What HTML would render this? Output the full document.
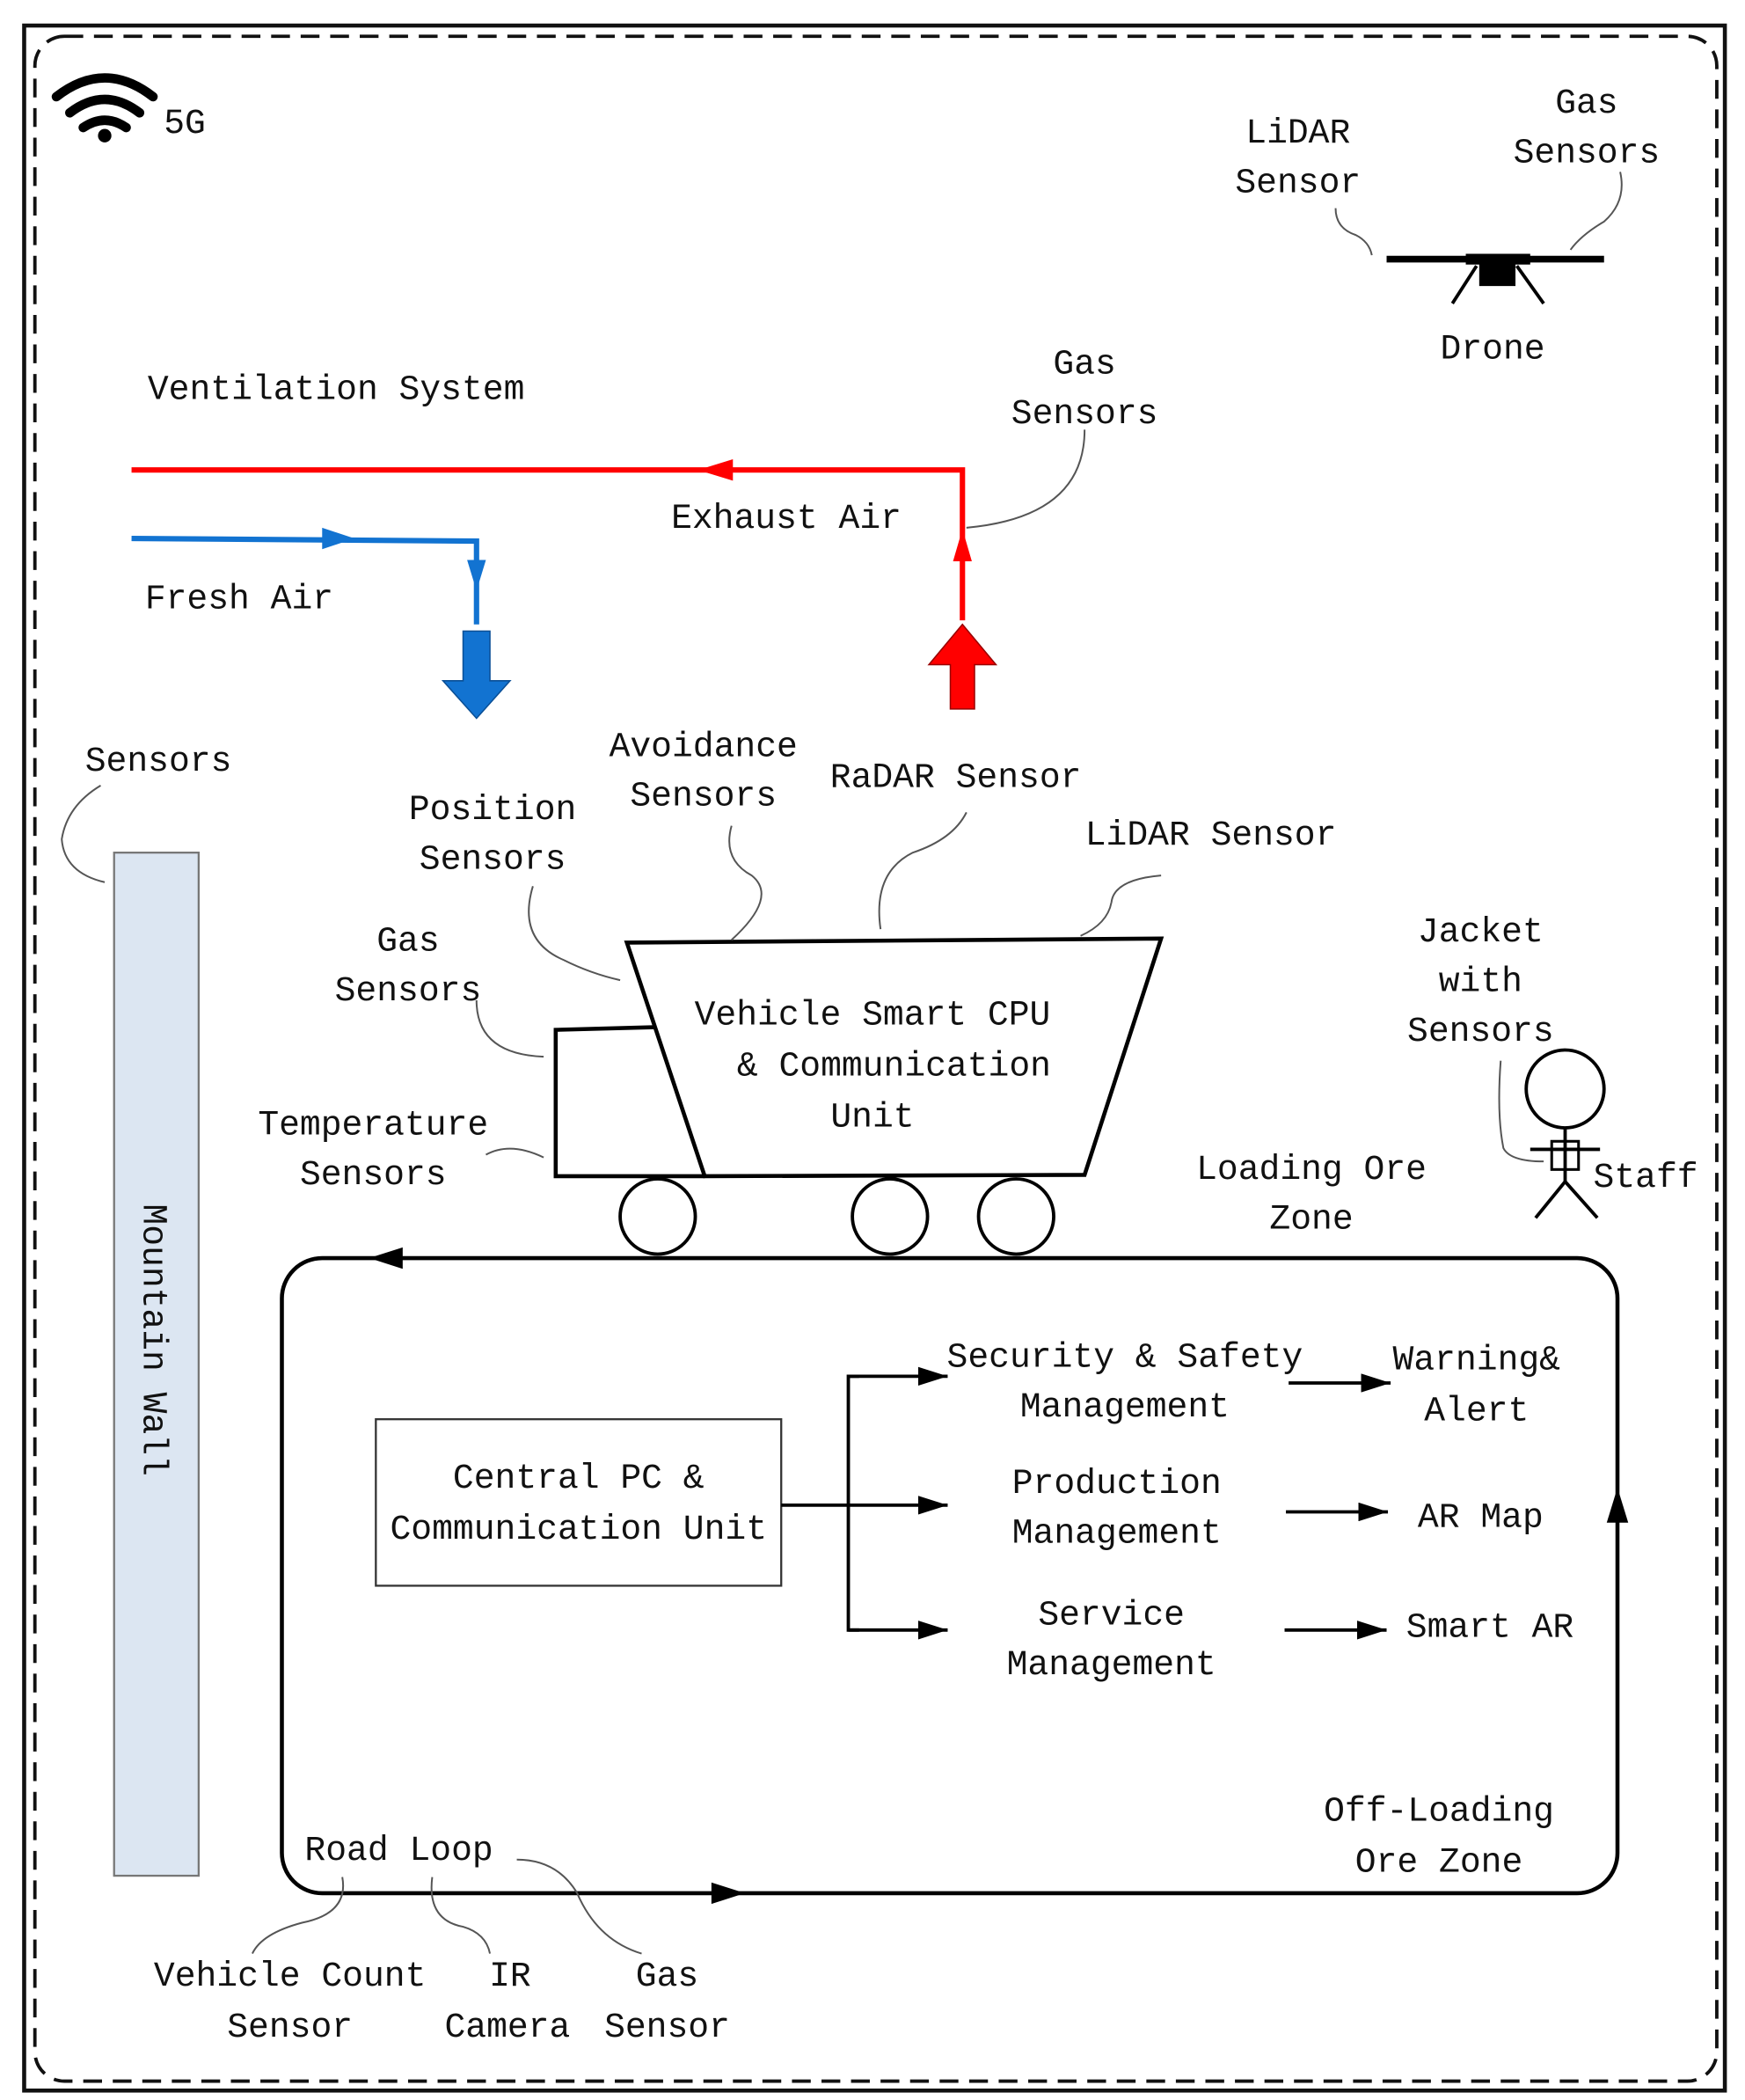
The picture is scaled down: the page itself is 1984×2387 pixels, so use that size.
<!DOCTYPE html>
<html><head><meta charset="utf-8"><style>
html,body{margin:0;padding:0;background:#fff}
svg{display:block}
text{font-family:"Liberation Mono",monospace;font-size:26px;fill:#111}
</style></head><body>
<svg width="1984" height="2387" viewBox="0 0 1300 1564" xmlns="http://www.w3.org/2000/svg">
<defs>
<marker id="ah" viewBox="0 0 22 14" refX="22" refY="7" markerWidth="22" markerHeight="14" markerUnits="userSpaceOnUse" orient="auto"><path d="M0,0 L22,7 L0,14z" fill="#000"/></marker>
</defs>
<rect width="1300" height="1564" fill="#fff"/>
<rect x="18" y="19" width="1267" height="1538" fill="none" stroke="#111" stroke-width="3"/>
<rect x="26" y="27" width="1253" height="1523" rx="22" fill="none" stroke="#111" stroke-width="2.5" stroke-dasharray="14,8"/>
<g fill="none" stroke="#000" stroke-width="7" stroke-linecap="round">
<path d="M42,72 Q78,44 114,72"/><path d="M52,84 Q78,64 104,84"/><path d="M62,95 Q78,84 94,95"/>
</g>
<circle cx="78" cy="101" r="5" fill="#000"/>
<text x="122" y="99">5G</text>
<line x1="1033" y1="193" x2="1195" y2="193" stroke="#000" stroke-width="5"/>
<rect x="1092" y="189" width="48" height="8" fill="#000"/>
<rect x="1102" y="195" width="27" height="18" fill="#000"/>
<line x1="1100" y1="198" x2="1082" y2="226" stroke="#000" stroke-width="2.5"/>
<line x1="1130" y1="198" x2="1150" y2="226" stroke="#000" stroke-width="2.5"/>
<g text-anchor="middle">
<text x="967" y="106">LiDAR</text><text x="967" y="143">Sensor</text>
<text x="1182" y="84">Gas</text><text x="1182" y="121">Sensors</text>
<text x="1112" y="267">Drone</text>
</g>
<g fill="none" stroke="#555" stroke-width="1.3">
<path d="M995,155 Q995,170 1010,175 Q1020,180 1022,190"/>
<path d="M1207,128 Q1212,150 1195,165 Q1178,175 1170,186"/>
</g>
<text x="110" y="297">Ventilation System</text>
<polyline points="98,350 717,350 717,462" fill="none" stroke="#f00" stroke-width="4"/>
<path d="M520,350 L546,342 L546,358z" fill="#f00"/>
<path d="M717,394 L710,418 L724,418z" fill="#f00"/>
<path d="M717,465 L742,495 L726,495 L726,528 L708,528 L708,495 L692,495z" fill="#f00" stroke="#900" stroke-width="1"/>
<polyline points="98,401 355,403 355,465" fill="none" stroke="#1273d1" stroke-width="4"/>
<path d="M264,401 L240,393 L240,409z" fill="#1273d1"/>
<path d="M355,440 L348,417 L362,417z" fill="#1273d1"/>
<path d="M345,470 L365,470 L365,507 L380,507 L355,535 L330,507 L345,507z" fill="#1273d1" stroke="#0a4f96" stroke-width="1"/>
<text x="500" y="393">Exhaust Air</text>
<text x="108" y="453">Fresh Air</text>
<g text-anchor="middle"><text x="808" y="278">Gas</text><text x="808" y="315">Sensors</text></g>
<path d="M808,320 Q808,385 720,393" fill="none" stroke="#555" stroke-width="1.3"/>
<rect x="85" y="635" width="63" height="762" fill="#dce6f2" stroke="#777" stroke-width="1.5"/>
<text transform="translate(107,998) rotate(90)" text-anchor="middle">Mountain Wall</text>
<text x="118" y="574" text-anchor="middle">Sensors</text>
<path d="M78,657 Q48,650 46,625 Q50,600 75,585" fill="none" stroke="#555" stroke-width="1.3"/>
<polyline points="488,765 414,767 414,876 525,876" fill="none" stroke="#000" stroke-width="3"/>
<polygon points="467,702 865,699 808,875 525,876" fill="none" stroke="#000" stroke-width="3"/>
<g fill="none" stroke="#000" stroke-width="2.5">
<circle cx="490" cy="906" r="28"/><circle cx="663" cy="906" r="28"/><circle cx="757" cy="906" r="28"/>
</g>
<g text-anchor="middle">
<text x="650" y="763">Vehicle Smart CPU</text>
<text x="666" y="801">&amp; Communication</text>
<text x="650" y="839">Unit</text>
<text x="367" y="610">Position</text><text x="367" y="647">Sensors</text>
<text x="524" y="563">Avoidance</text><text x="524" y="600">Sensors</text>
<text x="712" y="586">RaDAR Sensor</text>
<text x="902" y="629">LiDAR Sensor</text>
<text x="304" y="708">Gas</text><text x="304" y="745">Sensors</text>
<text x="278" y="845">Temperature</text><text x="278" y="882">Sensors</text>
<text x="1103" y="701">Jacket</text><text x="1103" y="738">with</text><text x="1103" y="775">Sensors</text>
<text x="977" y="878">Loading Ore</text><text x="977" y="915">Zone</text>
</g>
<g fill="none" stroke="#555" stroke-width="1.3">
<path d="M397,660 Q385,700 420,715 Q440,725 462,730"/>
<path d="M545,615 Q538,640 560,652 Q580,668 545,700"/>
<path d="M720,605 Q710,625 680,635 Q650,650 656,692"/>
<path d="M865,652 Q830,655 828,672 Q825,688 805,697"/>
<path d="M355,745 Q355,785 405,787"/>
<path d="M362,860 Q380,850 405,862"/>
<path d="M1118,790 Q1115,830 1120,855 Q1125,865 1150,865"/>
</g>
<g fill="none" stroke="#000" stroke-width="2.5">
<circle cx="1166" cy="811" r="29"/>
<line x1="1166" y1="840" x2="1166" y2="880"/>
<line x1="1140" y1="856" x2="1192" y2="856"/>
<rect x="1156" y="850" width="20" height="21" stroke-width="2"/>
<line x1="1166" y1="880" x2="1144" y2="907"/>
<line x1="1166" y1="880" x2="1190" y2="907"/>
</g>
<text x="1187" y="884">Staff</text>
<rect x="210" y="937" width="995" height="473" rx="30" fill="none" stroke="#000" stroke-width="3"/>
<path d="M275,937 L300,929 L300,945z" fill="#000"/>
<path d="M1205,1108 L1197,1134 L1213,1134z" fill="#000"/>
<path d="M555,1410 L530,1402 L530,1418z" fill="#000"/>
<rect x="280" y="1057" width="302" height="124" fill="#fff" stroke="#333" stroke-width="1.5"/>
<g text-anchor="middle">
<text x="431" y="1108">Central PC &amp;</text>
<text x="431" y="1146">Communication Unit</text>
</g>
<g stroke="#000" stroke-width="2.5" fill="none">
<line x1="582" y1="1121" x2="706" y2="1121" marker-end="url(#ah)"/>
<polyline points="640,1025 632,1025 632,1214 640,1214"/>
<line x1="632" y1="1025" x2="706" y2="1025" marker-end="url(#ah)"/>
<line x1="632" y1="1214" x2="706" y2="1214" marker-end="url(#ah)"/>
<line x1="960" y1="1030" x2="1036" y2="1030" marker-end="url(#ah)"/>
<line x1="958" y1="1126" x2="1034" y2="1126" marker-end="url(#ah)"/>
<line x1="957" y1="1214" x2="1033" y2="1214" marker-end="url(#ah)"/>
</g>
<g text-anchor="middle">
<text x="838" y="1018">Security &amp; Safety</text><text x="838" y="1055">Management</text>
<text x="832" y="1112">Production</text><text x="832" y="1149">Management</text>
<text x="828" y="1210">Service</text><text x="828" y="1247">Management</text>
<text x="1100" y="1020">Warning&amp;</text><text x="1100" y="1058">Alert</text>
<text x="1103" y="1137">AR Map</text>
<text x="1110" y="1219">Smart AR</text>
<text x="1072" y="1356">Off-Loading</text><text x="1072" y="1394">Ore Zone</text>
<text x="216" y="1479">Vehicle Count</text><text x="216" y="1517">Sensor</text>
<text x="380" y="1479">IR</text><text x="378" y="1517">Camera</text>
<text x="497" y="1479">Gas</text><text x="497" y="1517">Sensor</text>
</g>
<text x="227" y="1385">Road Loop</text>
<g fill="none" stroke="#555" stroke-width="1.3">
<path d="M255,1398 Q260,1425 225,1432 Q195,1440 188,1455"/>
<path d="M322,1398 Q318,1430 345,1435 Q362,1440 365,1455"/>
<path d="M385,1385 Q415,1385 430,1410 Q445,1445 478,1455"/>
</g>
</svg>
</body></html>
